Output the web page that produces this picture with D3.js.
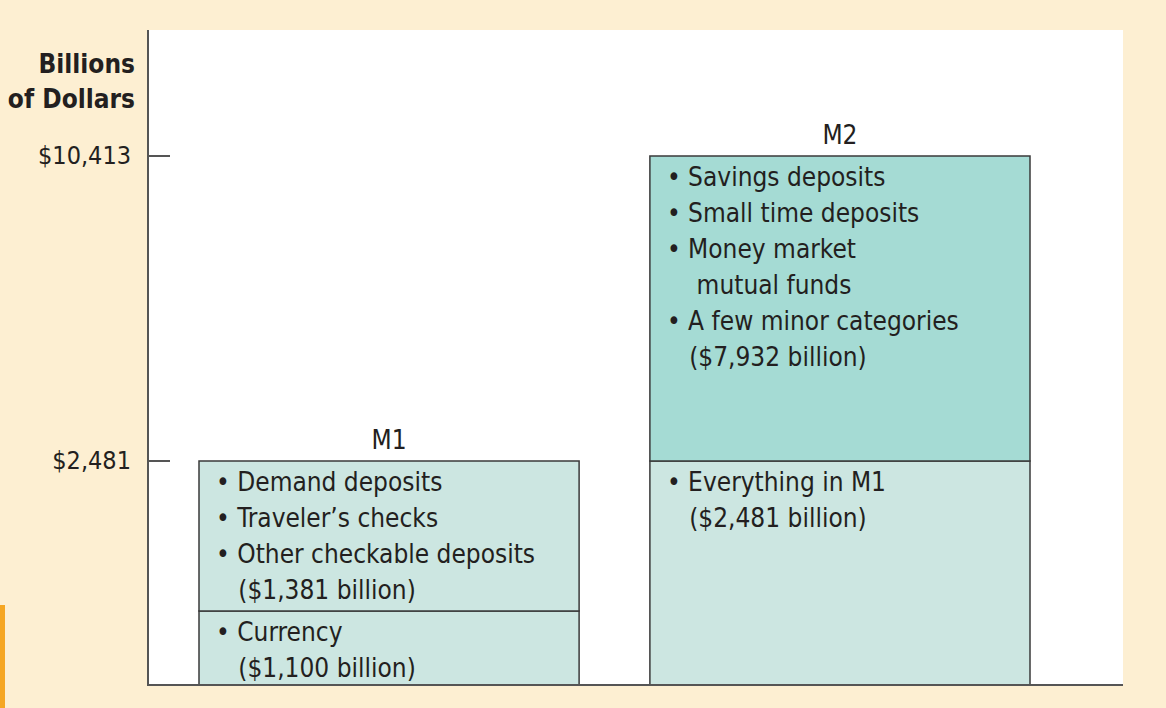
<!DOCTYPE html>
<html><head><meta charset="utf-8">
<script src="https://cdn.jsdelivr.net/npm/d3@7"></script>
<style>body{margin:0;background:#fdefd2;}svg{display:block}text{font-family:"Liberation Sans Narrow","DejaVu Sans Condensed",sans-serif;fill:#231f20}</style>
</head><body><svg id="c" width="1166" height="708"></svg>
<script>
const categories = ["M1", "M2"];
const segments = [
  {cat:"M1", lo:0, hi:1100, lines:["• Currency","   ($1,100 billion)"], fill:"light"},
  {cat:"M1", lo:1100, hi:2481, lines:["• Demand deposits","• Traveler’s checks","• Other checkable deposits","   ($1,381 billion)"], fill:"light"},
  {cat:"M2", lo:0, hi:2481, lines:["• Everything in M1","   ($2,481 billion)"], fill:"light"},
  {cat:"M2", lo:2481, hi:10413, lines:["• Savings deposits","• Small time deposits","• Money market","    mutual funds","• A few minor categories","   ($7,932 billion)"], fill:"dark"}
];
const totals = [2481, 10413];
const tickLabels = ["$2,481", "$10,413"];

const svg = d3.select("#c");
svg.append("rect").attr("x",0).attr("y",0).attr("width",1166).attr("height",708).attr("fill","#fdefd2");
svg.append("rect").attr("x",0).attr("y",605).attr("width",5).attr("height",103).attr("fill","#f5a623");
svg.append("rect").attr("x",148).attr("y",30).attr("width",975).attr("height",655).attr("fill","#fff");

// broken (piecewise) value scale as in the original figure
const y = d3.scaleLinear().domain([0,1100,2481,10413]).range([685,611,461,156]);
const x = d3.scaleBand().domain(categories).range([199,1030]).paddingInner(0.157).paddingOuter(0);

const col = {light:"#cce6e1", dark:"#a5dbd4"};
segments.forEach(s=>{
  const x0 = x(s.cat), w = x.bandwidth();
  svg.append("rect").attr("x",x0).attr("y",y(s.hi)).attr("width",w).attr("height",y(s.lo)-y(s.hi))
    .attr("fill",col[s.fill]).attr("stroke","#3a3a3a").attr("stroke-width",1.5);
  s.lines.forEach((l,i)=>{
    svg.append("text").attr("x",x0+17).attr("y",y(s.hi)+30+i*36).attr("font-size",26)
      .attr("xml:space","preserve").style("white-space","pre").text(l);
  });
});
categories.forEach((c,i)=>{
  svg.append("text").attr("x",x(c)+x.bandwidth()/2).attr("y",y(totals[i])-12).attr("text-anchor","middle").attr("font-size",26).text(c);
});

// axes
svg.append("line").attr("x1",148).attr("x2",148).attr("y1",30).attr("y2",686).attr("stroke","#555").attr("stroke-width",2);
svg.append("line").attr("x1",147).attr("x2",1123).attr("y1",685).attr("y2",685).attr("stroke","#555").attr("stroke-width",2);
totals.forEach((t,i)=>{
  svg.append("line").attr("x1",148).attr("x2",170).attr("y1",y(t)).attr("y2",y(t)).attr("stroke","#555").attr("stroke-width",2);
  svg.append("text").attr("x",131).attr("y",y(t)+8).attr("text-anchor","end").attr("font-size",25).text(tickLabels[i]);
});
svg.append("text").attr("x",135).attr("y",73).attr("text-anchor","end").attr("font-size",26).attr("font-weight","bold").text("Billions");
svg.append("text").attr("x",135).attr("y",108).attr("text-anchor","end").attr("font-size",26).attr("font-weight","bold").text("of Dollars");
</script></body></html>
